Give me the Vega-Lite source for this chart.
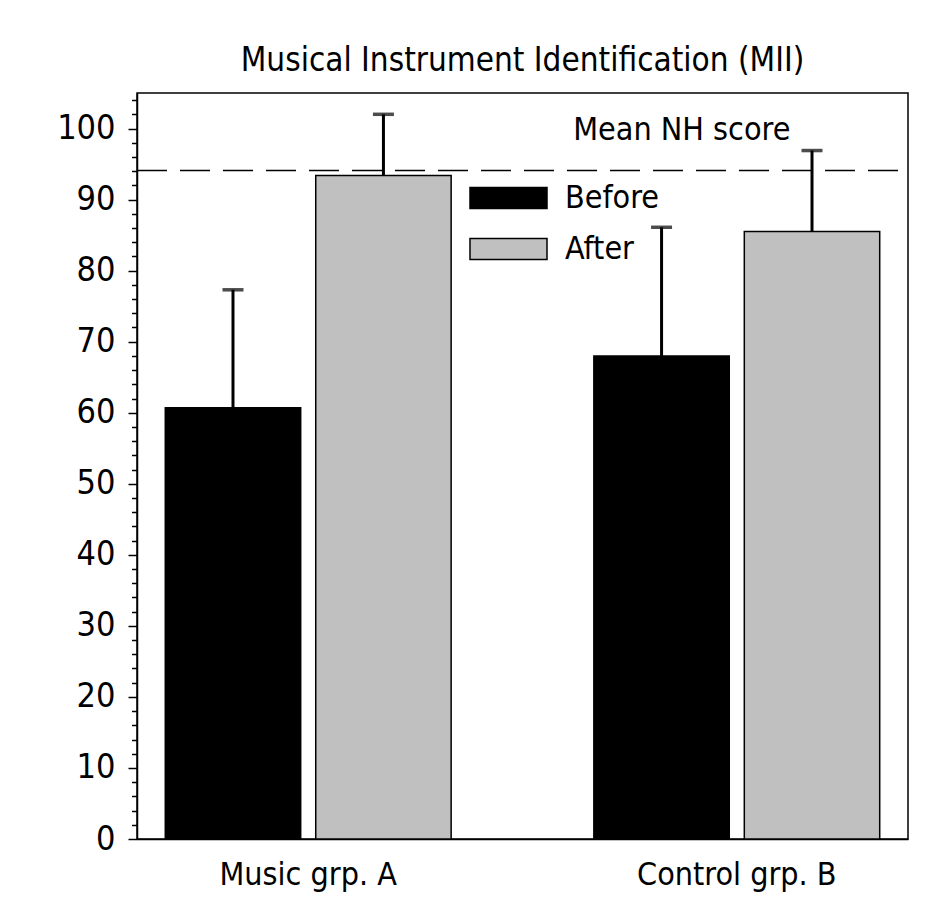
{
  "$schema": "https://vega.github.io/schema/vega-lite/v6.json",
  "width": 771,
  "height": 746,
  "autosize": "none",
  "padding": {"left": 137, "top": 93, "right": 43, "bottom": 78},
  "background": "white",
  "title": {
    "text": "Musical Instrument Identification (MII)",
    "font": "DejaVu Sans Condensed",
    "fontSize": 33,
    "fontWeight": "normal",
    "color": "black",
    "anchor": "middle",
    "baseline": "alphabetic",
    "offset": -21
  },
  "config": {
    "view": {"stroke": "black", "strokeWidth": 1.5},
    "axis": {"grid": false, "domainColor": "black", "domainWidth": 1.5, "labelColor": "black", "tickColor": "black"},
    "axisY": {
      "title": null,
      "labelOverlap": false,
      "labelFont": "DejaVu Sans Condensed",
      "labelFontSize": 34,
      "labelPadding": 13,
      "tickWidth": 1.5
    }
  },
  "data": {
    "values": [
      {"group": "Music grp. A", "cond": "Before", "value": 60.7, "upper": 77.3},
      {"group": "Music grp. A", "cond": "After", "value": 93.4, "upper": 102.0},
      {"group": "Control grp. B", "cond": "Before", "value": 68.0, "upper": 86.1},
      {"group": "Control grp. B", "cond": "After", "value": 85.5, "upper": 96.9}
    ]
  },
  "encoding": {
    "x": {
      "field": "group",
      "type": "nominal",
      "sort": ["Music grp. A", "Control grp. B"],
      "scale": {"domain": ["Music grp. A", "Control grp. B"], "paddingInner": 0.333, "paddingOuter": 0.066},
      "axis": {"title": null, "ticks": false, "labelAngle": 0, "labelLimit": 0, "labelFont": "DejaVu Sans Condensed", "labelFontSize": 32, "labelPadding": 20}
    }
  },
  "layer": [
    {
      "mark": {"type": "bar", "stroke": "black", "strokeWidth": 1.5},
      "encoding": {
        "xOffset": {"field": "cond", "type": "nominal", "sort": ["Before", "After"], "scale": {"paddingInner": 0.1, "paddingOuter": 0}},
        "y": {
          "field": "value",
          "type": "quantitative",
          "scale": {"domain": [0, 105], "nice": false},
          "axis": {
            "title": null,
            "values": [0,2,4,6,8,10,12,14,16,18,20,22,24,26,28,30,32,34,36,38,40,42,44,46,48,50,52,54,56,58,60,62,64,66,68,70,72,74,76,78,80,82,84,86,88,90,92,94,96,98,100,102,104],
            "labelExpr": "datum.value % 10 === 0 ? datum.label : ''",
            "labelOverlap": false,
            "tickSize": {"condition": {"test": "datum.value % 10 === 0", "value": 9}, "value": 5.5}
          }
        },
        "color": {
          "field": "cond",
          "type": "nominal",
          "sort": ["Before", "After"],
          "scale": {"domain": ["Before", "After"], "range": ["black", "#c0c0c0"]},
          "legend": {
            "title": null,
            "orient": "none",
            "legendX": 332,
            "legendY": 90,
            "symbolType": "M-1,-0.273H1V0.273H-1Z",
            "symbolSize": 5929,
            "symbolStrokeColor": "black",
            "symbolStrokeWidth": 1.5,
            "labelFont": "DejaVu Sans Condensed",
            "labelFontSize": 32,
            "labelColor": "black",
            "labelOffset": 17,
            "clipHeight": 30,
            "rowPadding": 19
          }
        }
      }
    },
    {
      "mark": {"type": "rule", "color": "black", "strokeWidth": 3},
      "encoding": {
        "xOffset": {"field": "cond", "type": "nominal", "sort": ["Before", "After"]},
        "y": {
          "field": "value",
          "type": "quantitative",
          "axis": {
            "title": null,
            "values": [0,2,4,6,8,10,12,14,16,18,20,22,24,26,28,30,32,34,36,38,40,42,44,46,48,50,52,54,56,58,60,62,64,66,68,70,72,74,76,78,80,82,84,86,88,90,92,94,96,98,100,102,104],
            "labelExpr": "datum.value % 10 === 0 ? datum.label : ''",
            "labelOverlap": false,
            "tickSize": {"condition": {"test": "datum.value % 10 === 0", "value": 9}, "value": 5.5}
          }
        },
        "y2": {"field": "upper"}
      }
    },
    {
      "mark": {"type": "tick", "color": "black", "size": 21, "thickness": 3.5},
      "encoding": {
        "xOffset": {"field": "cond", "type": "nominal", "sort": ["Before", "After"]},
        "y": {
          "field": "upper",
          "type": "quantitative",
          "axis": {
            "title": null,
            "values": [0,2,4,6,8,10,12,14,16,18,20,22,24,26,28,30,32,34,36,38,40,42,44,46,48,50,52,54,56,58,60,62,64,66,68,70,72,74,76,78,80,82,84,86,88,90,92,94,96,98,100,102,104],
            "labelExpr": "datum.value % 10 === 0 ? datum.label : ''",
            "labelOverlap": false,
            "tickSize": {"condition": {"test": "datum.value % 10 === 0", "value": 9}, "value": 5.5}
          }
        }
      }
    },
    {
      "data": {"values": [{"score": 94.1}]},
      "mark": {"type": "rule", "color": "black", "strokeWidth": 1.5, "strokeDash": [30, 13]},
      "encoding": {
        "x": {"value": 0},
        "x2": {"value": 761},
        "y": {
          "field": "score",
          "type": "quantitative",
          "axis": {
            "title": null,
            "values": [0,2,4,6,8,10,12,14,16,18,20,22,24,26,28,30,32,34,36,38,40,42,44,46,48,50,52,54,56,58,60,62,64,66,68,70,72,74,76,78,80,82,84,86,88,90,92,94,96,98,100,102,104],
            "labelExpr": "datum.value % 10 === 0 ? datum.label : ''",
            "labelOverlap": false,
            "tickSize": {"condition": {"test": "datum.value % 10 === 0", "value": 9}, "value": 5.5}
          }
        }
      }
    },
    {
      "data": {"values": [{"label": "Mean NH score"}]},
      "mark": {"type": "text", "font": "DejaVu Sans Condensed", "fontSize": 32, "color": "black", "align": "center", "baseline": "alphabetic", "dx": -55},
      "encoding": {
        "x": {"datum": "Control grp. B"},
        "y": {
          "datum": 98.4,
          "axis": {
            "title": null,
            "values": [0,2,4,6,8,10,12,14,16,18,20,22,24,26,28,30,32,34,36,38,40,42,44,46,48,50,52,54,56,58,60,62,64,66,68,70,72,74,76,78,80,82,84,86,88,90,92,94,96,98,100,102,104],
            "labelExpr": "datum.value % 10 === 0 ? datum.label : ''",
            "labelOverlap": false,
            "tickSize": {"condition": {"test": "datum.value % 10 === 0", "value": 9}, "value": 5.5}
          }
        },
        "text": {"field": "label"}
      }
    }
  ]
}
